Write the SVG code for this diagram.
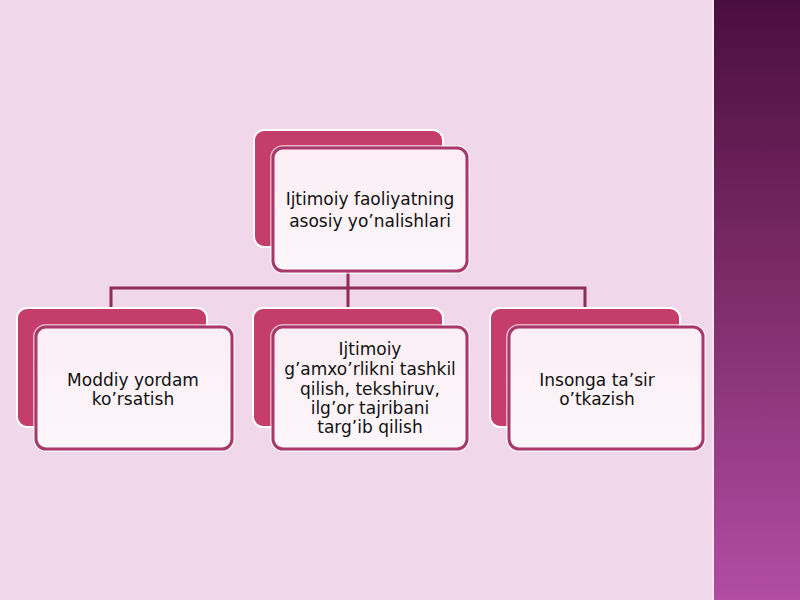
<svg xmlns="http://www.w3.org/2000/svg" width="800" height="600" viewBox="0 0 800 600">
<defs>
<linearGradient id="stripe" x1="0" y1="0" x2="0" y2="1">
<stop offset="0" stop-color="#4a0e3e"/>
<stop offset="0.45" stop-color="#7a2a66"/>
<stop offset="1" stop-color="#b24ca4"/>
</linearGradient>
<linearGradient id="front" x1="0" y1="0" x2="0" y2="1">
<stop offset="0" stop-color="#fbeef5"/>
<stop offset="1" stop-color="#fdf6fa"/>
</linearGradient>
<style>
.back{fill:#c43d6b;stroke:#ffffff;stroke-width:2}
.front{fill:url(#front);stroke:#a8386a;stroke-width:3}
.glow{fill:none;stroke:#ffffff;stroke-width:6;opacity:0.6}
.lbl{font-family:"DejaVu Sans","Liberation Sans",sans-serif;font-size:17px;fill:#111111;text-anchor:middle}
.conn{stroke:#8e2c5c;stroke-width:3;fill:none}
</style>
</defs>
<rect x="0" y="0" width="800" height="600" fill="#f0d7e9"/>
<rect x="714" y="0" width="86" height="600" fill="url(#stripe)"/>
<line x1="713" y1="0" x2="713" y2="600" stroke="#f8e4f2" stroke-width="2"/>
<g id="connectors">
<path class="conn" d="M348 272 V288 M111 308 V288 H585 V308 M348 288 V308"/>
</g>
<g id="node-top">
<rect class="back" x="254" y="130" width="189" height="117" rx="10"/>
<rect class="glow" x="273" y="148" width="194" height="123" rx="10"/>
<rect class="front" x="273" y="148" width="194" height="123" rx="10"/>
<text class="lbl" x="370" y="205">Ijtimoiy faoliyatning</text>
<text class="lbl" x="370" y="227">asosiy yo’nalishlari</text>
</g>
<g id="node-left">
<rect class="back" x="17" y="308" width="190" height="119" rx="10"/>
<rect class="glow" x="36" y="327" width="196" height="122" rx="10"/>
<rect class="front" x="36" y="327" width="196" height="122" rx="10"/>
<text class="lbl" x="133" y="386">Moddiy yordam</text>
<text class="lbl" x="133" y="405">ko’rsatish</text>
</g>
<g id="node-middle">
<rect class="back" x="253" y="308" width="190" height="119" rx="10"/>
<rect class="glow" x="273" y="327" width="194" height="122" rx="10"/>
<rect class="front" x="273" y="327" width="194" height="122" rx="10"/>
<text class="lbl" x="370" y="355">Ijtimoiy</text>
<text class="lbl" x="370" y="375">g’amxo’rlikni tashkil</text>
<text class="lbl" x="370" y="395">qilish, tekshiruv,</text>
<text class="lbl" x="370" y="414">ilg’or tajribani</text>
<text class="lbl" x="370" y="433">targ’ib qilish</text>
</g>
<g id="node-right">
<rect class="back" x="490" y="308" width="190" height="119" rx="10"/>
<rect class="glow" x="509" y="327" width="194" height="122" rx="10"/>
<rect class="front" x="509" y="327" width="194" height="122" rx="10"/>
<text class="lbl" x="597" y="386">Insonga ta’sir</text>
<text class="lbl" x="597" y="405">o’tkazish</text>
</g>
</svg>
